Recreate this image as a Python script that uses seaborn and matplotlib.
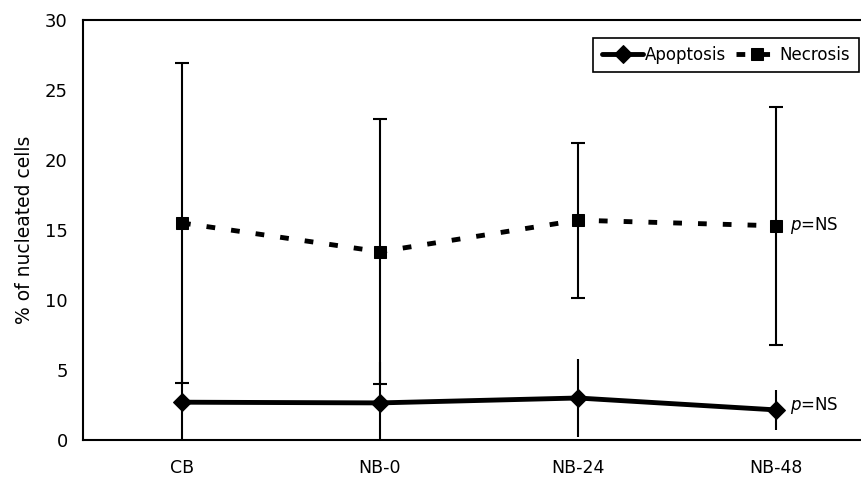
import matplotlib
matplotlib.use("Agg")
import matplotlib.pyplot as plt
import seaborn as sns
import pandas as pd
import numpy as np

categories = ["CB", "NB-0", "NB-24", "NB-48"]
apoptosis = [2.7, 2.65, 3.0, 2.15]
apoptosis_sd = [3.0, 2.9, 2.8, 1.4]
necrosis = [15.5, 13.45, 15.7, 15.3]
necrosis_sd = [11.45, 9.45, 5.55, 8.5]
yticks = [0, 5, 10, 15, 20, 25, 30]

sns.set_style("white")
plt.rcParams['font.family'] = ['DejaVu Sans']
plt.rcParams['text.color'] = 'black'
plt.rcParams['axes.labelcolor'] = 'black'
plt.rcParams['xtick.color'] = 'black'
plt.rcParams['ytick.color'] = 'black'

fig = plt.figure(figsize=(8.61, 4.83), dpi=100)
ax = fig.add_axes([83/861, 43/483, 1 - 83/861, 420/483])

x = np.arange(len(categories))
df = pd.DataFrame({"x": np.concatenate([x, x]),
                   "y": apoptosis + necrosis,
                   "series": ["Apoptosis"] * 4 + ["Necrosis"] * 4})

# error bars
ap_lo = np.minimum(np.array(apoptosis_sd), np.array(apoptosis))
ax.errorbar(x, apoptosis, yerr=[ap_lo, apoptosis_sd], fmt='none',
            ecolor='black', elinewidth=1.5, capsize=0, zorder=2)
ax.errorbar(x, necrosis, yerr=necrosis_sd, fmt='none',
            ecolor='black', elinewidth=1.5, capsize=5, capthick=1.5, zorder=2)

sns.lineplot(data=df[df.series == "Apoptosis"], x="x", y="y", ax=ax,
             color='black', linewidth=3.5, marker='D', markersize=9,
             markeredgecolor='black', label="Apoptosis", zorder=3)
sns.lineplot(data=df[df.series == "Necrosis"], x="x", y="y", ax=ax,
             color='black', linewidth=3.5, marker='s', markersize=8,
             markeredgecolor='black', label="Necrosis", zorder=3)
ax.lines[-1].set_dashes([1.8, 3.3])

ax.set_xlim(-0.5, 3.43)
ax.set_ylim(0, 30)
ax.set_yticks(yticks)
ax.set_yticklabels([str(v) for v in yticks], fontsize=13)
ax.set_xticks(x)
ax.set_xticklabels(categories, fontsize=12.5)
ax.tick_params(axis='x', length=0, pad=14)
ax.set_xticks([0.5, 1.5, 2.5], minor=True)
ax.tick_params(axis='x', which='minor', direction='in', length=6, width=1.5, color='black')
ax.tick_params(axis='y', direction='out', length=6, width=1.5, color='black', pad=5)
ax.set_xlabel("")
ax.set_ylabel("% of nucleated cells", fontsize=13.5, labelpad=8)

for s in ['left', 'bottom', 'top']:
    ax.spines[s].set_color('black')
    ax.spines[s].set_linewidth(1.5)
ax.spines['right'].set_visible(False)

ax.text(3.07, necrosis[3], r"$p$=NS", fontsize=12, va='center', ha='left')
ax.text(3.07, apoptosis[3] + 0.3, r"$p$=NS", fontsize=12, va='center', ha='left')

leg = ax.legend(loc='upper right', bbox_to_anchor=(0.997, 0.958), ncol=2,
                fontsize=12, frameon=True, fancybox=False, handlelength=2.5,
                handletextpad=0.1, columnspacing=0.6, borderpad=0.5,
                borderaxespad=0.0)
leg.get_frame().set_edgecolor('black')
leg.get_frame().set_linewidth(1.2)
leg.get_frame().set_alpha(1)

fig.savefig("out.png", dpi=100)
